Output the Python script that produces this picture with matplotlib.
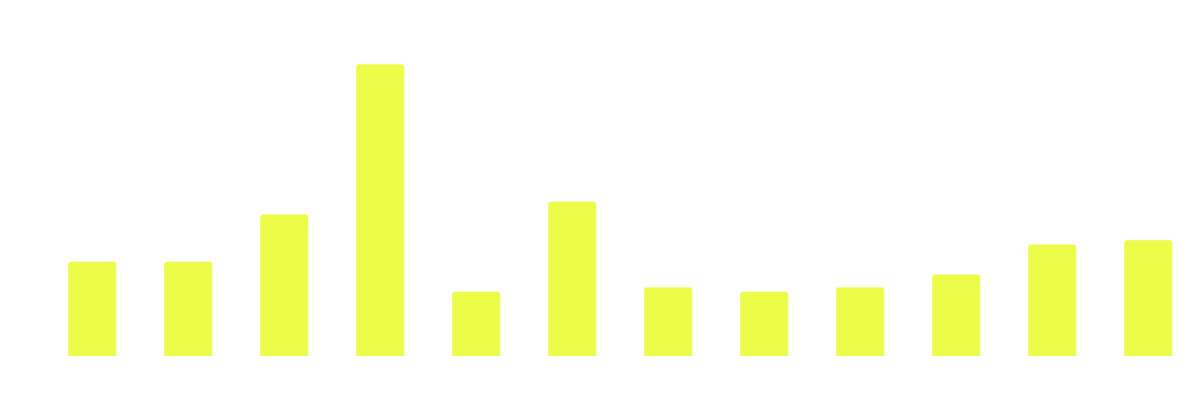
import matplotlib
matplotlib.use("Agg")
import matplotlib.pyplot as plt
from matplotlib.patches import PathPatch
from matplotlib.path import Path
from matplotlib.transforms import IdentityTransform

categories = ["Jan", "Feb", "Mar", "Apr", "May", "Jun",
              "Jul", "Aug", "Sep", "Oct", "Nov", "Dec"]
values = [22, 22, 33, 68, 15, 36, 16, 15, 16, 19, 26, 27]

BAR_COLOR = "#ecfc48"

fig = plt.figure(figsize=(12, 4), dpi=100)
fig.patch.set_facecolor("white")
ax = fig.add_axes([44.2 / 1200, 44.0 / 400, 1152 / 1200, 300.3 / 400])
ax.set_xlim(-0.5, len(categories) - 0.5)
ax.set_ylim(0, 70)
ax.axis("off")

bars = ax.bar(range(len(categories)), values, width=0.5, color=BAR_COLOR)


def top_rounded_path(x0, y0, x1, y1, r):
    k = 0.5523 * r
    verts = [
        (x0, y0),
        (x1, y0),
        (x1, y1 - r),
        (x1, y1 - r + k), (x1 - r + k, y1), (x1 - r, y1),
        (x0 + r, y1),
        (x0 + r - k, y1), (x0, y1 - r + k), (x0, y1 - r),
        (x0, y0),
    ]
    codes = [Path.MOVETO, Path.LINETO, Path.LINETO,
             Path.CURVE4, Path.CURVE4, Path.CURVE4,
             Path.LINETO,
             Path.CURVE4, Path.CURVE4, Path.CURVE4,
             Path.CLOSEPOLY]
    return Path(verts, codes)


fig.canvas.draw()
radius = 3.0
for b in bars:
    b.set_visible(False)
    bb = b.get_window_extent()
    p = top_rounded_path(bb.x0, bb.y0, bb.x1, bb.y1, radius)
    fig.add_artist(PathPatch(p, transform=IdentityTransform(),
                             facecolor=BAR_COLOR, edgecolor="none",
                             linewidth=0))

fig.savefig("out.png", dpi=100, facecolor="white")
